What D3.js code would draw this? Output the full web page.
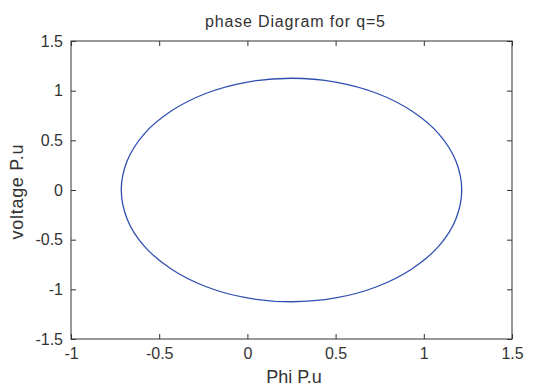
<!DOCTYPE html>
<html lang="en">
<head>
<meta charset="utf-8">
<title>phase Diagram for q=5</title>
<script type="text/javascript" src="https://d3js.org/d3.v7.min.js"></script>
<style>
body { margin: 0; background: #fff; }
text { font-family: "Liberation Sans", Arial, sans-serif; fill: #333; }
.tick text { font-size: 16px; }
</style>
</head>
<body>
<div id="chart"></div>
<script type="text/javascript">

var w = 536;
var h = 387;

// readings (phi, voltage), going round the loop
var phi = [1.215, 1.182, 1.086, 0.932, 0.733, 0.500, 0.250, 0.000, -0.233, -0.432, -0.586, -0.682,
           -0.715, -0.682, -0.586, -0.432, -0.233, 0.000, 0.250, 0.500, 0.733, 0.932, 1.086, 1.182];
var volt = [0.000, 0.291, 0.563, 0.795, 0.974, 1.087, 1.125, 1.087, 0.974, 0.795, 0.563, 0.291,
            0.000, -0.291, -0.563, -0.795, -0.974, -1.087, -1.125, -1.087, -0.974, -0.795, -0.563, -0.291];

var xTicks = [-1, -0.5, 0, 0.5, 1, 1.5];
var yTicks = [-1.5, -1, -0.5, 0, 0.5, 1, 1.5];

// plot box edges (window.top is reserved, so no plain "top")
var boxL = 71, boxR = 512, boxT = 41, boxB = 339;

var svg = d3.select("#chart").append("svg")
    .attr("width", w)
    .attr("height", h);

var x = d3.scaleLinear().domain([-1, 1.5]).range([boxL, boxR]);
var y = d3.scaleLinear().domain([-1.5, 1.5]).range([boxB, boxT]);

// box
svg.append("rect")
    .attr("x", boxL).attr("y", boxT)
    .attr("width", boxR - boxL).attr("height", boxB - boxT)
    .attr("fill", "#fff").attr("stroke", "#333").attr("stroke-width", 1);

var fmt = function(d) { return String(d); };

// ticks point inward on all four sides, labels only bottom and left
var xb = svg.append("g").attr("transform", "translate(0," + boxB + ")")
    .call(d3.axisBottom(x).tickValues(xTicks).tickFormat(fmt).tickSizeInner(-5).tickSizeOuter(0).tickPadding(9));
var xt = svg.append("g").attr("transform", "translate(0," + boxT + ")")
    .call(d3.axisTop(x).tickValues(xTicks).tickFormat("").tickSizeInner(-5).tickSizeOuter(0));
var yl = svg.append("g").attr("transform", "translate(" + boxL + ",0)")
    .call(d3.axisLeft(y).tickValues(yTicks).tickFormat(fmt).tickSizeInner(-5).tickSizeOuter(0).tickPadding(8));
var yr = svg.append("g").attr("transform", "translate(" + boxR + ",0)")
    .call(d3.axisRight(y).tickValues(yTicks).tickFormat("").tickSizeInner(-5).tickSizeOuter(0));

[xb, xt, yl, yr].forEach(function(g) {
    g.select(".domain").remove();
    g.selectAll(".tick line").attr("stroke", "#333");
    g.selectAll(".tick text").attr("fill", "#333");
});

// the loop
var pts = phi.map(function(p, i) { return [p, volt[i]]; });
var line = d3.line()
    .x(function(d) { return x(d[0]); })
    .y(function(d) { return y(d[1]); })
    .curve(d3.curveCatmullRomClosed);

svg.append("path")
    .datum(pts)
    .attr("d", line)
    .attr("fill", "none")
    .attr("stroke", "#2f4fb0")
    .attr("stroke-width", 1.3);

// titles
svg.append("text").text("phase Diagram for q=5")
    .attr("x", 295).attr("y", 27)
    .attr("text-anchor", "middle")
    .attr("font-size", 16)
    .attr("textLength", 180);

svg.append("text").text("Phi P.u")
    .attr("x", 294).attr("y", 383)
    .attr("text-anchor", "middle")
    .attr("font-size", 18);

svg.append("text").text("voltage P.u")
    .attr("transform", "translate(23,192) rotate(-90)")
    .attr("text-anchor", "middle")
    .attr("font-size", 18)
    .attr("textLength", 95);

</script>
</body>
</html>
